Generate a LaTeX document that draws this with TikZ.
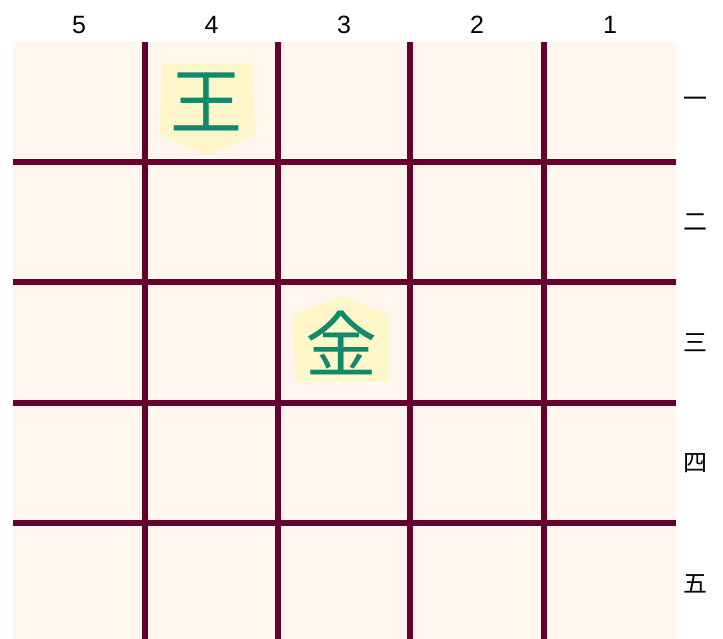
\documentclass[tikz,border=0pt]{standalone}
\usepackage{fontspec}
\setmainfont{Liberation Sans}
\newfontfamily\jp{Noto Sans CJK JP}
\definecolor{boardbg}{HTML}{FFF7EE}
\definecolor{gridc}{HTML}{66002F}
\definecolor{piecebg}{HTML}{FFF7C9}
\definecolor{piecefg}{HTML}{0F8A6C}
\begin{document}
\begin{tikzpicture}[x=1pt,y=-1pt,
  vline/.style={draw=gridc,line width=6pt},
  hline/.style={draw=gridc,line width=5.5pt},
  piece/.style={fill=piecebg},
  glyph/.style={text=piecefg,font=\jp\fontsize{72}{72}\selectfont,inner sep=0pt},
  collab/.style={font=\fontsize{25}{25}\selectfont,inner sep=0pt},
  rowlab/.style={font=\jp\fontsize{24}{24}\selectfont,inner sep=0pt}]
\useasboundingbox (0,0) rectangle (723,639);
\fill[boardbg] (13,42) rectangle (676,639);
\foreach \x in {145,278,410,544} \draw[vline] (\x,42) -- (\x,639);
\foreach \y in {162,282,403,523} \draw[hline] (13,\y) -- (676,\y);
% pieces
\fill[piece] (161.7,63.3) -- (252.3,63.3) -- (255,135) -- (208,155.7) -- (160,135) -- cycle;
\node[glyph] (ou) at (206.5,102) {王};
\fill[piece] (341,296) -- (390,315) -- (388.3,381.7) -- (295,381.7) -- (293.3,315) -- cycle;
\node[glyph] (kin) at (341.5,343) {金};
% labels
\node[collab] (c5) at (79,25) {5};
\node[collab] (c4) at (211.5,25) {4};
\node[collab] (c3) at (344,25) {3};
\node[collab] (c2) at (477,25) {2};
\node[collab] (c1) at (610,25) {1};
\node[rowlab] (r1) at (695,102) {一};
\node[rowlab] (r2) at (695,222) {二};
\node[rowlab] (r3) at (695,343) {三};
\node[rowlab] (r4) at (695,463) {四};
\node[rowlab] (r5) at (695,584) {五};
\end{tikzpicture}
\end{document}
